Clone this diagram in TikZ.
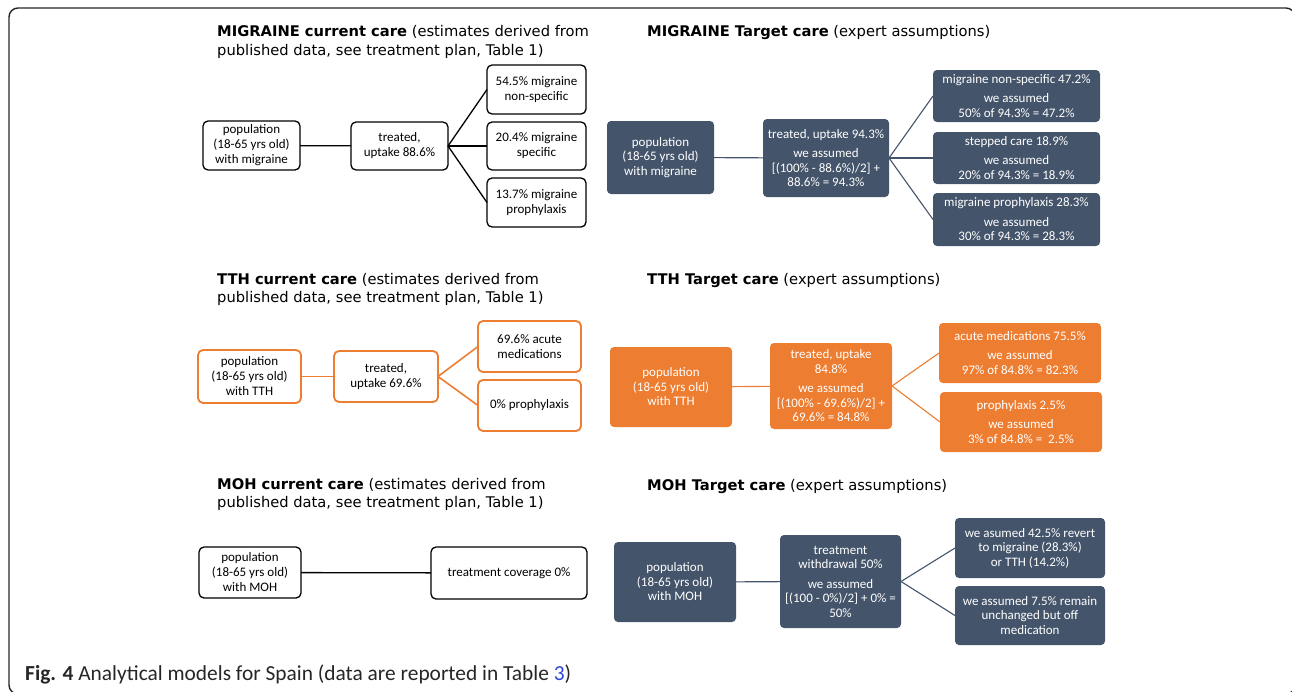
\documentclass[tikz,border=0pt]{standalone}
\usepackage{fontspec}
\setmainfont{Carlito}
\newfontfamily\headfont{DejaVu Sans}
\definecolor{slate}{HTML}{44546A}
\definecolor{orng}{HTML}{ED7D31}
\definecolor{figblue}{HTML}{2B45D9}
\begin{document}
\begin{tikzpicture}[x=1pt,y=-1pt,
 box/.style={align=center, inner sep=0pt, outer sep=0pt, font=\fontsize{13}{15}\selectfont},
 cur/.style={box, draw=black, line width=1.3pt, rounded corners=5pt, fill=white},
 curo/.style={cur, draw=orng, line width=1.8pt},
 tgt/.style={box, fill=slate, text=white, rounded corners=4pt, font=\fontsize{13}{14.5}\selectfont},
 tgto/.style={tgt, fill=orng},
 head/.style={anchor=base west, inner sep=0pt, font=\headfont\fontsize{14.7}{18}\selectfont},
 link/.style={line width=1.3pt, draw=black},
 linko/.style={line width=1.6pt, draw=orng},
 tlink/.style={line width=1.1pt, draw=slate},
 tlinko/.style={line width=1.1pt, draw=orng}]
\useasboundingbox (0,0) rectangle (1292,691);
\begin{scope}
\clip (0,0) rectangle (1292,691);
\draw[line width=1.4pt, rounded corners=9pt, draw=black!85] (9,8) rectangle (1295,694);
\end{scope}

% ---------- headings ----------
\node[head] (h1a) at (217,36.7) {\textbf{MIGRAINE current care} (estimates derived from};
\node[head] (h1b) at (217,55) {published data, see treatment plan, Table 1)};
\node[head] (h2) at (647,36.7) {\textbf{MIGRAINE Target care} (expert assumptions)};
\node[head] (h3a) at (217,284) {\textbf{TTH current care} (estimates derived from};
\node[head] (h3b) at (217,302) {published data, see treatment plan, Table 1)};
\node[head] (h4) at (647,284) {\textbf{TTH Target care} (expert assumptions)};
\node[head] (h5a) at (217,489) {\textbf{MOH current care} (estimates derived from};
\node[head] (h5b) at (217,507) {published data, see treatment plan, Table 1)};
\node[head] (h6) at (647,490) {\textbf{MOH Target care} (expert assumptions)};

% ---------- MIGRAINE current ----------
\node[cur, minimum width=97pt, minimum height=49pt] (mcp) at (251.5,145.5) {population\\(18-65 yrs old)\\with migraine};
\node[cur, minimum width=97pt, minimum height=48pt] (mct) at (399.5,146) {treated,\\uptake 88.6\%};
\node[cur, minimum width=99pt, minimum height=49pt] (mc1) at (536.5,89.5) {54.5\% migraine\\non-specific};
\node[cur, minimum width=99pt, minimum height=48pt] (mc2) at (536.5,146) {20.4\% migraine\\specific};
\node[cur, minimum width=99pt, minimum height=49pt] (mc3) at (536.5,202.5) {13.7\% migraine\\prophylaxis};
\draw[link] (mcp) -- (mct);
\draw[link] (mct.east) -- (mc1.west);
\draw[link] (mct.east) -- (mc2.west);
\draw[link] (mct.east) -- (mc3.west);

% ---------- MIGRAINE target ----------
\node[tgt, minimum width=107pt, minimum height=73pt] (mtp) at (660.5,157.5) {population\\(18-65 yrs old)\\with migraine};
\node[tgt, minimum width=126pt, minimum height=78pt] (mtt) at (826,158) {treated, uptake 94.3\%\\[5pt]we assumed\\{}[(100\% - 88.6\%)/2] +\\88.6\% = 94.3\%};
\node[tgt, minimum width=167pt, minimum height=52pt] (mt1) at (1016.5,96) {migraine non-specific 47.2\%\\[5pt]we assumed\\50\% of 94.3\% = 47.2\%};
\node[tgt, minimum width=167pt, minimum height=52pt] (mt2) at (1016.5,158) {stepped care 18.9\%\\[5pt]we assumed\\20\% of 94.3\% = 18.9\%};
\node[tgt, minimum width=167pt, minimum height=53pt] (mt3) at (1016.5,219.5) {migraine prophylaxis 28.3\%\\[5pt]we assumed\\30\% of 94.3\% = 28.3\%};
\draw[tlink] (mtp) -- (mtt);
\draw[tlink] (mtt.east) -- (mt1.west);
\draw[tlink] (mtt.east) -- (mt2.west);
\draw[tlink] (mtt.east) -- (mt3.west);

% ---------- TTH current ----------
\node[curo, minimum width=103pt, minimum height=53pt] (tcp) at (249.5,376.5) {population\\(18-65 yrs old)\\with TTH};
\node[curo, minimum width=104pt, minimum height=51pt] (tct) at (386,376.5) {treated,\\uptake 69.6\%};
\node[curo, minimum width=103pt, minimum height=51pt] (tc1) at (529.5,346.5) {69.6\% acute\\medications};
\node[curo, minimum width=103pt, minimum height=51pt] (tc2) at (529.5,405.5) {0\% prophylaxis};
\draw[linko] (tcp) -- (tct);
\draw[linko] (tct.east) -- (tc1.west);
\draw[linko] (tct.east) -- (tc2.west);

% ---------- TTH target ----------
\node[tgto, minimum width=122pt, minimum height=80pt] (ttp) at (671,387) {population\\(18-65 yrs old)\\with TTH};
\node[tgto, minimum width=122pt, minimum height=86pt] (ttt) at (831,386) {treated, uptake\\84.8\%\\[5pt]we assumed\\{}[(100\% - 69.6\%)/2] +\\69.6\% = 84.8\%};
\node[tgto, minimum width=162pt, minimum height=60pt] (tt1) at (1020,353) {acute medications 75.5\%\\[5pt]we assumed\\97\% of 84.8\% = 82.3\%};
\node[tgto, minimum width=162pt, minimum height=60pt] (tt2) at (1021,422) {prophylaxis 2.5\%\\[5pt]we assumed\\3\% of 84.8\% = \ 2.5\%};
\draw[tlinko] (ttp) -- (ttt);
\draw[tlinko] (ttt.east) -- (tt1.west);
\draw[tlinko] (ttt.east) -- (tt2.west);

% ---------- MOH current ----------
\node[cur, minimum width=102pt, minimum height=51pt] (hcp) at (250,572.5) {population\\(18-65 yrs old)\\with MOH};
\node[cur, minimum width=156pt, minimum height=52pt] (hcc) at (509,573) {treatment coverage 0\%};
\draw[link] (hcp) -- (hcc);

% ---------- MOH target ----------
\node[tgt, minimum width=122pt, minimum height=80pt] (htp) at (675,582) {population\\(18-65 yrs old)\\with MOH};
\node[tgt, minimum width=121pt, minimum height=93pt] (htt) at (840.5,581.5) {treatment\\withdrawal 50\%\\[5pt]we assumed\\{}[(100 - 0\%)/2] + 0\% =\\50\%};
\node[tgt, minimum width=150pt, minimum height=60pt] (ht1) at (1030,548) {we asumed 42.5\% revert\\to migraine (28.3\%)\\or TTH (14.2\%)};
\node[tgt, minimum width=150pt, minimum height=59pt] (ht2) at (1030,615.5) {we assumed 7.5\% remain\\unchanged but off\\medication};
\draw[tlink] (htp) -- (htt);
\draw[tlink] (htt.east) -- (ht1.west);
\draw[tlink] (htt.east) -- (ht2.west);

% ---------- caption ----------
\node[anchor=base west, inner sep=0pt, font=\fontsize{21.4}{24}\selectfont, text=black!85] (cap) at (25,680) {\textbf{Fig. 4} Analytical models for Spain (data are reported in Table \textcolor{figblue}{3})};
\end{tikzpicture}
\end{document}
